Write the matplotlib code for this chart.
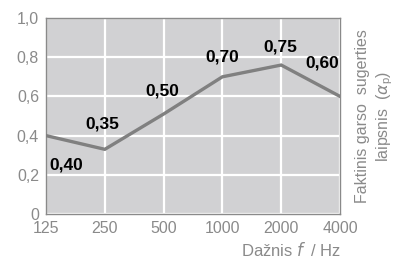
import matplotlib
matplotlib.use("Agg")
import matplotlib.pyplot as plt

plt.rcParams['font.family'] = ['Liberation Sans Narrow', 'Liberation Sans', 'DejaVu Sans']

# data
freqs = ["125", "250", "500", "1000", "2000", "4000"]
alpha = [0.40, 0.33, 0.51, 0.70, 0.76, 0.60]
labels = ["0,40", "0,35", "0,50", "0,70", "0,75", "0,60"]
label_pos = [(0.34, 0.25), (0.95, 0.46), (1.97, 0.63), (2.99, 0.80), (3.98, 0.85), (4.69, 0.77)]
yticks = [0, 0.2, 0.4, 0.6, 0.8, 1.0]
ytick_labels = ["0", "0,2", "0,4", "0,6", "0,8", "1,0"]

gray_txt = "#8a8a8a"

fig = plt.figure(figsize=(4, 2.62), dpi=100)
ax = fig.add_axes([46/400, 1 - 214/262, 294/400, 196/262])
ax.set_facecolor("#d1d1d3")

x = list(range(len(freqs)))
ax.plot(x, alpha, color="#808080", lw=2.4, solid_joinstyle="miter", zorder=3)

for t, (lx, ly) in zip(labels, label_pos):
    ax.text(lx, ly, t, ha="center", va="center", fontsize=12.5, fontweight="bold",
            color="black", zorder=4)

ax.set_xlim(0, len(freqs) - 1)
ax.set_ylim(0, 1)
ax.set_xticks(x)
ax.set_xticklabels(freqs)
ax.set_yticks(yticks)
ax.set_yticklabels(ytick_labels)
ax.grid(True, color="white", lw=1.6, zorder=1)
ax.set_axisbelow(True)
ax.tick_params(length=0, labelsize=11.5, colors=gray_txt, pad=5)
for s in ax.spines.values():
    s.set_color("#8a8a8a")
    s.set_linewidth(1.0)

fig.text(341/400, 1 - 250/262, "Dažnis $\\it{f}$\u2009 / Hz", ha="right", va="center",
         fontsize=12, color=gray_txt)
fig.text(363/400, 1 - 116/262, "Faktinis garso  sugerties", rotation=90,
         ha="center", va="center", fontsize=11.5, color=gray_txt)
fig.text(385/400, 1 - 116/262, "laipsnis  ($\\alpha_\\mathregular{p}$)", rotation=90,
         ha="center", va="center", fontsize=11.5, color=gray_txt)

fig.savefig("out.png", dpi=100)
